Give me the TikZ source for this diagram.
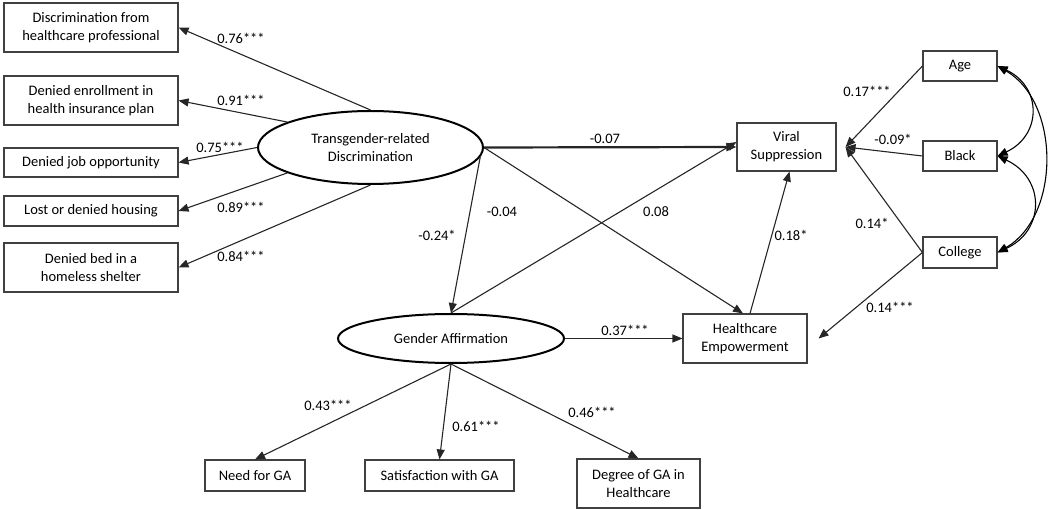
\documentclass[tikz,border=0pt]{standalone}
\usepackage{fontspec}
\setmainfont{Carlito}
\usetikzlibrary{shapes.geometric,arrows.meta}

\begin{document}
\begin{tikzpicture}[x=1pt,y=-1pt,
    obs/.style={draw=black!75, line width=1.1pt, align=center, inner sep=0pt, font=\fontsize{14.5}{18}\selectfont},
    lat/.style={draw=black, line width=2pt, ellipse, align=center, inner sep=0pt, font=\fontsize{14.5}{18}\selectfont},
    arr/.style={line width=1.1pt, draw=black!85, -{Triangle[length=10pt,width=8pt]}},
    cov/.style={line width=1.1pt, {Triangle[length=10pt,width=8pt]}-{Triangle[length=10pt,width=8pt]}},
    coef/.style={font=\fontsize{14.5}{16}\selectfont}]
    \useasboundingbox (0,0) rectangle (1049,510);

    % Discrimination indicators
    \node[obs, minimum width=174, minimum height=49] (disc) at (91,27.5) {Discrimination from\\healthcare professional};
    \node[obs, minimum width=174, minimum height=49] (enroll) at (91,100.5) {Denied enrollment in\\health insurance plan};
    \node[obs, minimum width=174, minimum height=29] (job) at (91,162.5) {Denied job opportunity};
    \node[obs, minimum width=174, minimum height=30] (housing) at (91,211) {Lost or denied housing};
    \node[obs, minimum width=174, minimum height=49] (shelter) at (91,267.5) {Denied bed in a\\homeless shelter};

    % Latent variables
    \node[lat, minimum width=225, minimum height=73] (tgd) at (370.5,147.5) {Transgender-related\\Discrimination};
    \node[lat, minimum width=226, minimum height=49] (ga) at (451,338.5) {Gender Affirmation};

    % Outcomes
    \node[obs, minimum width=99, minimum height=48] (vs) at (786.5,147) {Viral\\Suppression};
    \node[obs, minimum width=124, minimum height=49] (he) at (745,338.5) {Healthcare\\Empowerment};

    % Covariates
    \node[obs, minimum width=74, minimum height=30] (age) at (960,66) {Age};
    \node[obs, minimum width=74, minimum height=30] (black) at (960,156) {Black};
    \node[obs, minimum width=74, minimum height=31] (college) at (960,252.5) {College};
    \coordinate (vs-in) at ([xshift=9pt]vs.east);
    \coordinate (he-in) at ([xshift=11pt]he.east);

    % Gender affirmation indicators
    \node[obs, minimum width=100, minimum height=31] (need) at (255,475.5) {Need for GA};
    \node[obs, minimum width=149, minimum height=31] (satis) at (439.5,475.5) {Satisfaction with GA};
    \node[obs, minimum width=123, minimum height=49] (degree) at (638.5,483.5) {Degree of GA in\\Healthcare};

    % Measurement paths
    \draw[arr] (tgd.north) -- (disc.east);
    \draw[arr] (tgd.163) -- (enroll.east);
    \draw[arr] (tgd.west) -- (job.east);
    \draw[arr] (tgd.197) -- (housing.east);
    \draw[arr] (tgd.south) -- (shelter.east);
    \draw[arr] (ga.south) -- (need.north);
    \draw[arr] (ga.south) -- (satis.north);
    \draw[arr] (ga.south) -- (degree.north);

    % Structural paths
    \draw[arr, line width=2.2pt] (tgd.east) -- (vs.west);
    \draw[arr] (tgd.-5) -- (ga.north);
    \draw[arr] (tgd.east) -- ([xshift=-2pt]he.north);
    \draw[arr] (ga.north) -- ([yshift=5pt]vs.west);
    \draw[arr] (ga.east) -- (he.west);
    \draw[arr] ([xshift=5pt]he.north) -- ([xshift=3pt]vs.south);
    \draw[arr] (age.west) -- (vs-in);
    \draw[arr] (black.west) -- (vs-in);
    \draw[arr] (college.west) -- (vs-in);
    \draw[arr] (college.west) -- (he-in);

    % Covariances
    \draw[cov] (age.east) to[out=-25, in=25, looseness=1.4] (black.east);
    \draw[cov] (black.east) to[out=-25, in=25, looseness=1.4] (college.east);
    \draw[cov] (age.east) to[out=-30, in=30, looseness=1] (college.east);

    % Coefficients
    \node[coef] (c-disc) at (241,38) {0.76***};
    \node[coef] (c-enroll) at (241,100) {0.91***};
    \node[coef] (c-job) at (220,147) {0.75***};
    \node[coef] (c-housing) at (241,207) {0.89***};
    \node[coef] (c-shelter) at (241,256) {0.84***};
    \node[coef] (c-tv) at (605,139) {-0.07};
    \node[coef] (c-tg) at (437,235) {-0.24*};
    \node[coef] (c-th) at (502,212) {-0.04};
    \node[coef] (c-gv) at (656,212) {0.08};
    \node[coef] (c-gh) at (625,330) {0.37***};
    \node[coef] (c-hv) at (791,235) {0.18*};
    \node[coef] (c-age) at (867,91) {0.17***};
    \node[coef] (c-black) at (893,139) {-0.09*};
    \node[coef] (c-colv) at (872,223) {0.14*};
    \node[coef] (c-colh) at (890,307) {0.14***};
    \node[coef] (c-need) at (328,405) {0.43***};
    \node[coef] (c-satis) at (476,426) {0.61***};
    \node[coef] (c-degree) at (592,412) {0.46***};
\end{tikzpicture}
\end{document}
